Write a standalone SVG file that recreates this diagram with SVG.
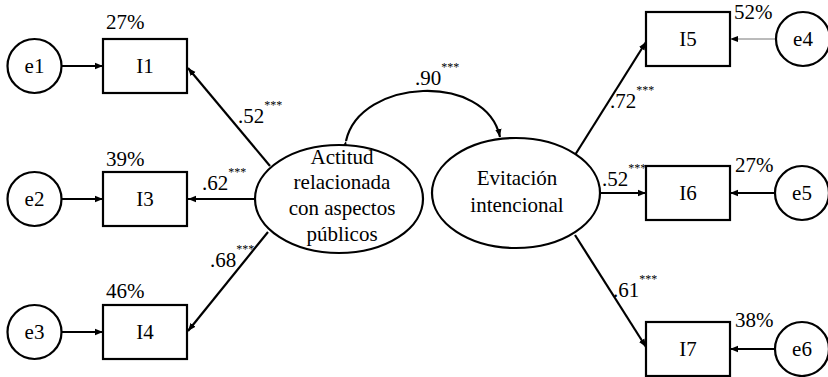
<svg xmlns="http://www.w3.org/2000/svg" width="828" height="377" viewBox="0 0 828 377" font-family="'Liberation Serif', 'DejaVu Serif', serif">
<style>
text{fill:#000}
.t{font-size:21px}
.c{text-anchor:middle}
.s{font-size:12px}
.n{fill:#fff;stroke:#000;stroke-width:2.2}
.l{fill:none;stroke:#000;stroke-width:2.2}
.thin{fill:none;stroke:#777;stroke-width:1}
</style>
<defs>
<marker id="a" markerUnits="userSpaceOnUse" markerWidth="8" markerHeight="8" viewBox="0 0 8 8" refX="8" refY="4" orient="auto">
<path d="M0,0.8 L8,4 L0,7.2 z" fill="#000"/>
</marker>
</defs>
<rect width="828" height="377" fill="#fff"/>
<g id="connectors">
<line class="l" x1="62" y1="66" x2="103" y2="66" marker-end="url(#a)"/>
<line class="l" x1="62" y1="199" x2="103" y2="199" marker-end="url(#a)"/>
<line class="l" x1="62" y1="332" x2="103" y2="332" marker-end="url(#a)"/>
<line class="l" x1="270" y1="166" x2="188" y2="68" marker-end="url(#a)"/>
<line class="l" x1="256" y1="199" x2="188" y2="199" marker-end="url(#a)"/>
<line class="l" x1="268" y1="232" x2="188" y2="331" marker-end="url(#a)"/>
<line class="l" x1="575" y1="155" x2="646" y2="42" marker-end="url(#a)"/>
<line class="l" x1="600" y1="193" x2="646" y2="193" marker-end="url(#a)"/>
<line class="l" x1="575" y1="235" x2="646" y2="347" marker-end="url(#a)"/>
<line class="thin" x1="776" y1="39" x2="734" y2="39"/>
<path d="M738,36 L730,39 L738,42 z" fill="#000"/>
<line class="l" x1="775" y1="193" x2="730" y2="193" marker-end="url(#a)"/>
<line class="l" x1="775" y1="349" x2="730" y2="349" marker-end="url(#a)"/>
<path class="l" d="M346,141 C360,78 486,72 500,137" marker-start="url(#a)" marker-end="url(#a)"/>
<text class="t" x="238" y="123">.52<tspan class="s" dy="-14">***</tspan></text>
<text class="t" x="202" y="190">.62<tspan class="s" dy="-14">***</tspan></text>
<text class="t" x="210" y="267">.68<tspan class="s" dy="-14">***</tspan></text>
<text class="t" x="415" y="85">.90<tspan class="s" dy="-14">***</tspan></text>
<text class="t" x="610" y="108">.72<tspan class="s" dy="-14">***</tspan></text>
<text class="t" x="602" y="186">.52<tspan class="s" dy="-14">***</tspan></text>
<text class="t" x="613" y="297">.61<tspan class="s" dy="-14">***</tspan></text>
</g>
<g id="e1"><circle class="n" cx="34.5" cy="66" r="27"/><text class="t c" x="34.5" y="73">e1</text></g>
<g id="e2"><circle class="n" cx="34.5" cy="199" r="27"/><text class="t c" x="34.5" y="206">e2</text></g>
<g id="e3"><circle class="n" cx="34.5" cy="332" r="27"/><text class="t c" x="34.5" y="339">e3</text></g>
<g id="I1"><rect class="n" x="103" y="39" width="84" height="54"/><text class="t c" x="145" y="73">I1</text><text class="t" x="106" y="29">27%</text></g>
<g id="I3"><rect class="n" x="103" y="172" width="84" height="54"/><text class="t c" x="145" y="206">I3</text><text class="t" x="106" y="166">39%</text></g>
<g id="I4"><rect class="n" x="103" y="305" width="84" height="54"/><text class="t c" x="145" y="339">I4</text><text class="t" x="106" y="298">46%</text></g>
<g id="actitud"><ellipse class="n" cx="339" cy="199" rx="84" ry="54"/>
<text class="t c" x="342" y="164">Actitud</text>
<text class="t c" x="342" y="189">relacionada</text>
<text class="t c" x="342" y="215">con aspectos</text>
<text class="t c" x="342" y="241">públicos</text></g>
<g id="evitacion"><ellipse class="n" cx="516" cy="193" rx="84" ry="55"/>
<text class="t c" x="517" y="185">Evitación</text>
<text class="t c" x="517" y="212">intencional</text></g>
<g id="I5"><rect class="n" x="646" y="12" width="84" height="54"/><text class="t c" x="688" y="46">I5</text><text class="t" x="734" y="19">52%</text></g>
<g id="I6"><rect class="n" x="646" y="166" width="84" height="54"/><text class="t c" x="688" y="200">I6</text><text class="t" x="735" y="172">27%</text></g>
<g id="I7"><rect class="n" x="646" y="322" width="84" height="54"/><text class="t c" x="688" y="356">I7</text><text class="t" x="735" y="327">38%</text></g>
<g id="e4"><circle class="n" cx="803" cy="39" r="27"/><text class="t c" x="803" y="46">e4</text></g>
<g id="e5"><circle class="n" cx="802" cy="193" r="27"/><text class="t c" x="802" y="200">e5</text></g>
<g id="e6"><circle class="n" cx="802" cy="349" r="27"/><text class="t c" x="802" y="356">e6</text></g>
</svg>
